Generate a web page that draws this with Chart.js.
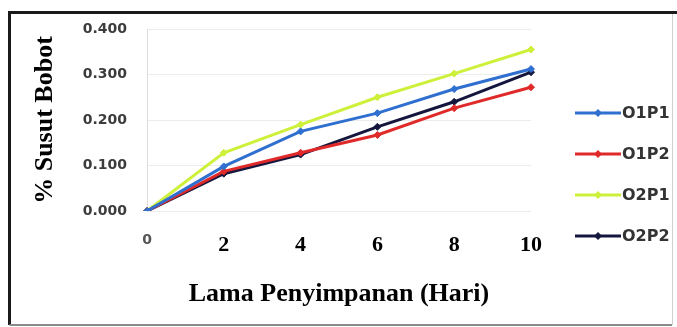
<!DOCTYPE html>
<html>
<head>
<meta charset="utf-8">
<script src="https://cdn.jsdelivr.net/npm/chart.js@4"></script>
<style>
  html, body { margin: 0; padding: 0; background: #fff; }
  #wrap { position: relative; width: 677px; height: 327px; }
</style>
</head>
<body>
<div id="wrap"><canvas id="c" width="677" height="327"></canvas></div>
<script>
const categories = ['0', '2', '4', '6', '8', '10'];
const seriesNames = ['O1P1', 'O1P2', 'O2P1', 'O2P2'];
const o1p1 = [0, 0.098, 0.175, 0.215, 0.268, 0.312];
const o1p2 = [0, 0.087, 0.128, 0.167, 0.226, 0.272];
const o2p1 = [0, 0.128, 0.190, 0.250, 0.302, 0.355];
const o2p2 = [0, 0.082, 0.124, 0.185, 0.240, 0.305];
const colors = ['#2f6fd0', '#e02a2a', '#cdf03a', '#15163d'];
const yTicks = [0, 0.1, 0.2, 0.3, 0.4];

const seriesValues = [o1p1, o1p2, o2p1, o2p2];

const legendPlugin = {
  id: 'customLegend',
  afterDraw(chart) {
    const ctx = chart.ctx;
    ctx.save();
    chart.data.datasets.forEach((ds, i) => {
      const y = 113 + i * 41;
      ctx.strokeStyle = ds.borderColor;
      ctx.lineWidth = 3;
      ctx.beginPath();
      ctx.moveTo(575, y);
      ctx.lineTo(621, y);
      ctx.stroke();
      ctx.fillStyle = ds.borderColor;
      ctx.beginPath();
      ctx.moveTo(598, y - 4); ctx.lineTo(602, y); ctx.lineTo(598, y + 4); ctx.lineTo(594, y);
      ctx.closePath();
      ctx.fill();
      ctx.fillStyle = '#333';
      ctx.font = 'bold 16px "DejaVu Sans"';
      ctx.textAlign = 'left';
      ctx.textBaseline = 'middle';
      ctx.fillText(ds.label, 622, y + 1);
    });
    ctx.restore();
  }
};

const borderPlugin = {
  id: 'frame',
  afterDraw(chart) {
    const ctx = chart.ctx;
    ctx.save();
    ctx.strokeStyle = '#1a1a1a';
    ctx.lineWidth = 3;
    ctx.beginPath();
    ctx.moveTo(9.5, 325);
    ctx.lineTo(9.5, 12.5);
    ctx.lineTo(677, 12.5);
    ctx.stroke();
    ctx.strokeStyle = '#8a8a8a';
    ctx.lineWidth = 2;
    ctx.beginPath();
    ctx.moveTo(9.5, 325);
    ctx.lineTo(672, 325);
    ctx.stroke();
    ctx.strokeStyle = '#cfcfcf';
    ctx.lineWidth = 1;
    ctx.beginPath();
    ctx.moveTo(672.5, 14);
    ctx.lineTo(672.5, 325);
    ctx.stroke();
    ctx.restore();
  }
};

new Chart(document.getElementById('c'), {
  type: 'line',
  data: {
    labels: categories,
    datasets: seriesNames.map((name, i) => ({
      label: name,
      data: seriesValues[i],
      borderColor: colors[i],
      backgroundColor: colors[i],
      borderWidth: 3,
      pointStyle: 'rectRot',
      pointRadius: 3.5,
      pointBorderWidth: 1,
      tension: 0,
      fill: false
    }))
  },
  options: {
    responsive: false,
    animation: false,
    devicePixelRatio: 1,
    layout: { padding: { top: 29, right: 146, bottom: 0, left: 0 } },
    plugins: {
      legend: { display: false },
      tooltip: { enabled: false }
    },
    scales: {
      x: {
        type: 'category',
        offset: false,
        afterFit(scale) { scale.height = 116; },
        grid: { display: false, drawTicks: false },
        border: { display: false },
        ticks: {
          padding: 21,
          maxRotation: 0,
          autoSkip: false,
          color: (c) => c.index === 0 ? '#555' : '#000',
          font: (c) => c.index === 0
            ? { family: '"DejaVu Sans"', size: 14, weight: 'bold' }
            : { family: '"Liberation Serif"', size: 22, weight: 'bold' }
        },
        title: {
          display: true,
          text: 'Lama Penyimpanan (Hari)',
          color: '#000',
          font: { family: '"Liberation Serif"', size: 26, weight: 'bold' },
          padding: { top: 0, bottom: 17 }
        }
      },
      y: {
        min: 0,
        max: 0.4,
        afterFit(scale) { scale.width = 147; },
        afterBuildTicks(scale) { scale.ticks = yTicks.map(v => ({ value: v })); },
        grid: { color: '#ececec', lineWidth: 1, drawTicks: false },
        border: { display: true, color: '#dcdcdc' },
        ticks: {
          padding: 20,
          color: '#3c3c3c',
          font: { family: '"DejaVu Sans"', size: 14, weight: 'bold' },
          callback: (v) => Number(v).toFixed(3)
        },
        title: {
          display: true,
          text: '% Susut Bobot',
          color: '#000',
          font: { family: '"Liberation Serif"', size: 26, weight: 'bold' },
          padding: { top: 30, bottom: 0 }
        }
      }
    }
  },
  plugins: [legendPlugin, borderPlugin]
});
</script>
</body>
</html>
